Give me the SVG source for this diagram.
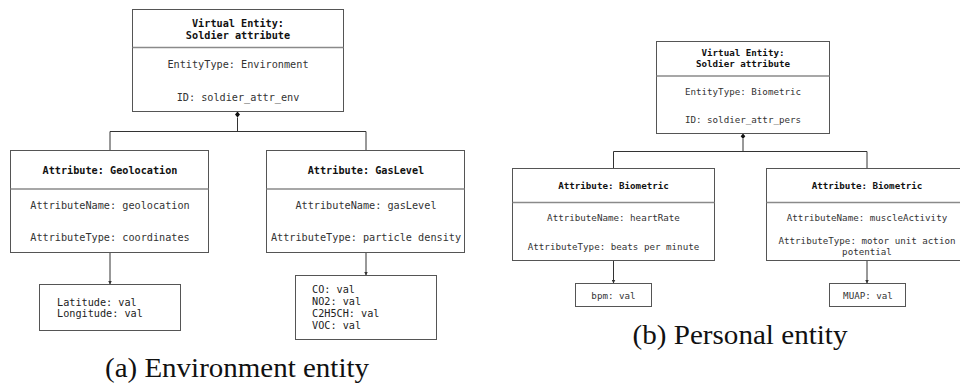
<svg xmlns="http://www.w3.org/2000/svg" width="960" height="385" viewBox="0 0 960 385">
  <style>
    .box { fill: #ffffff; stroke: #555555; stroke-width: 1; }
    .div { stroke: #8a8a8a; stroke-width: 1.5; fill: none; }
    .wire { stroke: #333333; stroke-width: 1; fill: none; }
    .title { font-family: "DejaVu Sans Mono", "Liberation Mono", monospace; font-weight: bold; fill: #111111; text-anchor: middle; }
    .body { font-family: "DejaVu Sans Mono", "Liberation Mono", monospace; fill: #333333; text-anchor: middle; }
    .val { font-family: "DejaVu Sans Mono", "Liberation Mono", monospace; fill: #222222; }
    .l { font-size: 10.2px; }
    .s { font-size: 9.2px; }
    .cap { font-family: "Liberation Serif", "Times New Roman", serif; font-size: 28px; fill: #111111; text-anchor: middle; }
  </style>
  <defs>
    <marker id="arrow" viewBox="0 0 6 6" refX="6" refY="3" markerWidth="4" markerHeight="4" orient="auto" markerUnits="userSpaceOnUse">
      <path d="M0,0 L6,3 L0,6 z" fill="#333333"/>
    </marker>
  </defs>

  <!-- connectors -->
  <g id="connectors">
    <!-- environment entity composition -->
    <polygon points="237.5,111.5 240,114.5 237.5,117.5 235,114.5" fill="#111111"/>
    <path class="wire" d="M237.5,117.5 V131.5 M110,131.5 H366 M110,131.5 V150.5 M366,131.5 V150.5"/>
    <path class="wire" d="M110,252.5 V284.5" marker-end="url(#arrow)"/>
    <path class="wire" d="M366,252.5 V275.5" marker-end="url(#arrow)"/>
    <!-- personal entity composition -->
    <polygon points="743,133.5 745.3,136.3 743,139.1 740.7,136.3" fill="#111111"/>
    <path class="wire" d="M743,139 V151.5 M613.5,151.5 H867 M613.5,151.5 V168.5 M867,151.5 V168.5"/>
    <path class="wire" d="M613.5,260.5 V283.5" marker-end="url(#arrow)"/>
    <path class="wire" d="M867,260.5 V283.5" marker-end="url(#arrow)"/>
  </g>

  <!-- (a) environment entity -->
  <g id="env-entity">
    <rect class="box" x="132.5" y="9.5" width="211" height="102"/>
    <line class="div" x1="132.5" y1="47.5" x2="343.5" y2="47.5"/>
    <text class="title l" x="238" y="27">Virtual Entity:</text>
    <text class="title l" x="238" y="39">Soldier attribute</text>
    <text class="body l" x="238" y="67.5">EntityType: Environment</text>
    <text class="body l" x="238" y="100.5">ID: soldier_attr_env</text>
  </g>

  <g id="attr-geolocation">
    <rect class="box" x="10.5" y="150.5" width="198" height="102"/>
    <line class="div" x1="10.5" y1="189" x2="208.5" y2="189"/>
    <text class="title l" x="110" y="173.5">Attribute: Geolocation</text>
    <text class="body l" x="110" y="208.5">AttributeName: geolocation</text>
    <text class="body l" x="110" y="240.5">AttributeType: coordinates</text>
  </g>

  <g id="attr-gaslevel">
    <rect class="box" x="266.5" y="150.5" width="198" height="102"/>
    <line class="div" x1="266.5" y1="189" x2="464.5" y2="189"/>
    <text class="title l" x="366" y="173.5">Attribute: GasLevel</text>
    <text class="body l" x="366" y="208.5">AttributeName: gasLevel</text>
    <text class="body l" x="366" y="240.5">AttributeType: particle density</text>
  </g>

  <g id="val-geolocation">
    <rect class="box" x="39.5" y="284.5" width="141" height="46"/>
    <text class="val l" x="57" y="305.5">Latitude: val</text>
    <text class="val l" x="57" y="317">Longitude: val</text>
  </g>

  <g id="val-gaslevel">
    <rect class="box" x="295.5" y="275.5" width="141" height="64"/>
    <text class="val l" x="312" y="292.5">CO: val</text>
    <text class="val l" x="312" y="305">NO2: val</text>
    <text class="val l" x="312" y="317">C2H5CH: val</text>
    <text class="val l" x="312" y="329">VOC: val</text>
  </g>

  <!-- (b) personal entity -->
  <g id="pers-entity">
    <rect class="box" x="656.5" y="41.5" width="173" height="92"/>
    <line class="div" x1="656.5" y1="76" x2="829.5" y2="76"/>
    <text class="title s" x="743" y="56">Virtual Entity:</text>
    <text class="title s" x="743" y="67">Soldier attribute</text>
    <text class="body s" x="743" y="94.5">EntityType: Biometric</text>
    <text class="body s" x="743" y="122.5">ID: soldier_attr_pers</text>
  </g>

  <g id="attr-heartrate">
    <rect class="box" x="512.5" y="168.5" width="202" height="92"/>
    <line class="div" x1="512.5" y1="202.5" x2="714.5" y2="202.5"/>
    <text class="title s" x="613.5" y="188.5">Attribute: Biometric</text>
    <text class="body s" x="613.5" y="220.5">AttributeName: heartRate</text>
    <text class="body s" x="613.5" y="249.5">AttributeType: beats per minute</text>
  </g>

  <g id="attr-muscle">
    <rect class="box" x="766.5" y="168.5" width="202" height="92"/>
    <line class="div" x1="766.5" y1="202.5" x2="968.5" y2="202.5"/>
    <text class="title s" x="867" y="188.5">Attribute: Biometric</text>
    <text class="body s" x="867" y="220.5">AttributeName: muscleActivity</text>
    <text class="body s" x="867" y="244">AttributeType: motor unit action</text>
    <text class="body s" x="867" y="255">potential</text>
  </g>

  <g id="val-heartrate">
    <rect class="box" x="575.5" y="283.5" width="76" height="23"/>
    <text class="body s" x="613.5" y="298.5">bpm: val</text>
  </g>

  <g id="val-muscle">
    <rect class="box" x="829.5" y="283.5" width="76" height="23"/>
    <text class="body s" x="868" y="298.5">MUAP: val</text>
  </g>

  <!-- captions -->
  <text class="cap" x="237" y="377" textLength="264" lengthAdjust="spacingAndGlyphs">(a) Environment entity</text>
  <text class="cap" x="740" y="343.5" textLength="215" lengthAdjust="spacingAndGlyphs">(b) Personal entity</text>
</svg>
